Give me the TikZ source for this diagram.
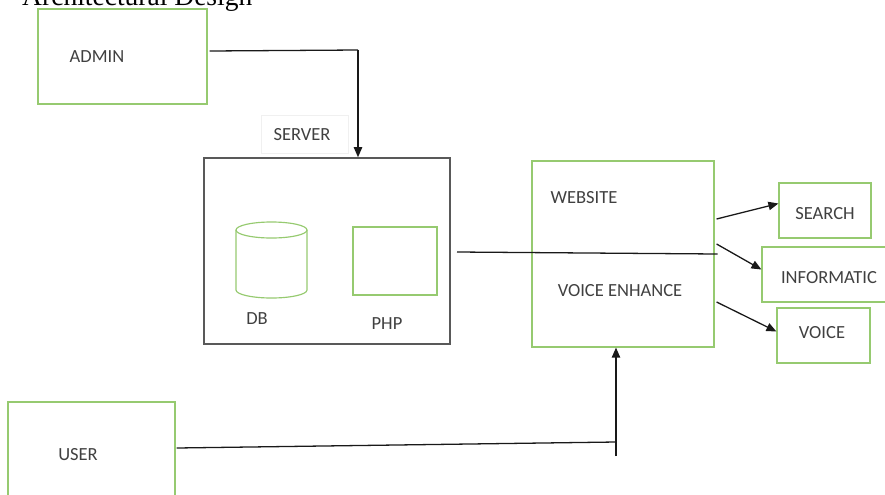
\documentclass[tikz,border=0pt]{standalone}
\usepackage{fontspec}
\setmainfont{Carlito}
\newfontfamily\titlefont{Liberation Serif}
\usetikzlibrary{arrows.meta,calc}
\definecolor{boxgreen}{RGB}{150,202,112}
\definecolor{labelgray}{RGB}{64,64,64}
\newcommand{\px}{0.03cm}
\tikzset{
  greenbox/.style 2 args={
    draw=boxgreen,
    line width=1pt,
    minimum width=#1*\px,
    minimum height=#2*\px,
    inner sep=0pt
  },
  serverbox/.style 2 args={
    draw=black!65,
    line width=1.3pt,
    minimum width=#1*\px,
    minimum height=#2*\px,
    inner sep=0pt
  },
  caption/.style={
    text=labelgray,
    font=\fontsize{15.8}{19}\selectfont,
    inner sep=0pt
  },
  link/.style={
    draw=black!90,
    line width=1.1pt
  },
  arrow/.style={
    link,
    -{Triangle[length=3mm,width=2.5mm]}
  }
}

\begin{document}
\begin{tikzpicture}[x=\px,y=-\px]
  \useasboundingbox (0,0) rectangle (885,494);
  \node[anchor=base west, inner sep=0pt, font=\titlefont\fontsize{23.5}{28}\selectfont] (title) at (22,5) {Architectural Design};

  \node[greenbox={169}{95}] (admin) at (122.5,56.5) {};
  \node[caption] (admintext) at (97,57) {ADMIN};

  \node[greenbox={167}{96}] (user) at (91.5,450) {};
  \node[caption] (usertext) at (78,455) {USER};

  \node[draw=black!6, line width=0.6pt, minimum width=87*\px, minimum height=38*\px] (serverlabel) at (304.5,134) {};
  \node[caption] (servertext) at (302,135) {SERVER};
  \node[serverbox={246}{186}] (server) at (327,251) {};

  \draw[boxgreen, line width=1pt] (236,230) -- (236,290)
      arc[start angle=180, end angle=360, x radius=35.5*\px, y radius=8*\px] -- (307,230);
  \draw[boxgreen, line width=1pt] (271.5,230) ellipse [x radius=35.5*\px, y radius=8*\px];
  \node[caption] (dbtext) at (257,319) {DB};

  \node[greenbox={84}{68}] (php) at (395,261) {};
  \node[caption] (phptext) at (387,324) {PHP};

  \node[greenbox={182}{186}] (website) at (623,254) {};
  \node[caption] (websitetext) at (584,198) {WEBSITE};
  \node[caption] (enhancetext) at (620,291) {VOICE ENHANCE};

  \node[greenbox={92}{55}] (search) at (825,210.5) {};
  \node[caption] at (825,214) {SEARCH};
  \node[greenbox={126}{55}] (informatic) at (825,274.5) {};
  \node[caption] at (829,278) {INFORMATIC};
  \node[greenbox={93}{55}] (voice) at (823.5,335.5) {};
  \node[caption] at (822,333) {VOICE};

  \coordinate (adminbend) at (358,50);
  \draw[link] ([shift={(2,-5.5)}]admin.east) -- (adminbend);
  \draw[arrow] (adminbend) -- (adminbend |- server.north);

  \coordinate (phpout) at (457,252);
  \draw[link] (phpout) -- ([xshift=3*\px]website.east);

  \foreach \s/\t/\dst in {35/7/search, 10/5/informatic, -48/4/voice}{
    \draw[arrow] ([shift={(2,-\s)}]website.east) -- ([shift={(0,-\t)}]\dst.west);
  }

  \coordinate (userbend) at (616,442);
  \coordinate (usertail) at (616,456);
  \draw[link] ([shift={(1,-2)}]user.east) -- (userbend);
  \draw[arrow] (usertail) -- (usertail |- website.south);
\end{tikzpicture}
\end{document}
